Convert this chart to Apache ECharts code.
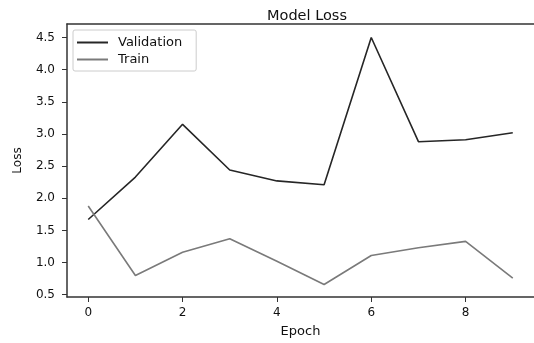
<!DOCTYPE html>
<html><head><meta charset="utf-8">
<script src="https://cdn.jsdelivr.net/npm/echarts@6/dist/echarts.min.js"></script>
<style>html,body{margin:0;padding:0;background:#fff}#c{width:534px;height:343px}</style>
</head><body><div id="c"></div>
<script>
var epochs = [0,1,2,3,4,5,6,7,8,9];
var validation = [1.67,2.33,3.15,2.44,2.27,2.21,4.50,2.88,2.91,3.02];
var train = [1.88,0.80,1.16,1.37,1.02,0.66,1.11,1.23,1.33,0.76];
var xTicks = [0,2,4,6,8];
var yTicks = [0.5,1.0,1.5,2.0,2.5,3.0,3.5,4.0,4.5];
var FONT = 'DejaVu Sans';
var chart = echarts.init(document.getElementById('c'), null, {renderer:'canvas'});
chart.setOption({
  animation:false,
  backgroundColor:'#fff',
  title:{text:'Model Loss', left:302, top:4, textAlign:'center',
    textStyle:{fontFamily:FONT, fontSize:14.5, fontWeight:'normal', color:'#111'}},
  legend:{left:73, top:30, orient:'vertical', padding:[6,14,5,4], itemWidth:31, itemHeight:2, itemGap:4,
    icon:'rect',
    borderColor:'#ccc', borderWidth:1, borderRadius:2,
    textStyle:{fontFamily:FONT, fontSize:13, color:'#111', padding:[0,0,0,5]},
    data:['Validation','Train']},
  grid:{left:67, top:24, width:470, height:275, show:false, containLabel:false},
  xAxis:[{type:'value', min:-0.45, max:9.45, name:'Epoch', nameLocation:'middle', nameGap:28,
    nameTextStyle:{fontFamily:FONT, fontSize:13, color:'#111'},
    axisLine:{onZero:false, lineStyle:{color:'#333', width:1.5}},
    axisTick:{show:true, length:5, customValues:xTicks, lineStyle:{color:'#333'}},
    axisLabel:{customValues:xTicks, fontFamily:FONT, fontSize:12, color:'#111', margin:10},
    splitLine:{show:false}},
    {type:'value', position:'top', min:-0.45, max:9.45,
    axisLine:{show:true, onZero:false, lineStyle:{color:'#333', width:1.5}},
    axisTick:{show:false}, axisLabel:{show:false}, splitLine:{show:false}}],
  yAxis:{type:'value', min:0.465, max:4.71, name:'Loss', nameLocation:'middle', nameGap:43,
    nameTextStyle:{fontFamily:FONT, fontSize:12, color:'#111'},
    axisLine:{show:true, onZero:false, lineStyle:{color:'#333', width:1.5}},
    axisTick:{show:true, length:5, customValues:yTicks, lineStyle:{color:'#333'}},
    axisLabel:{customValues:yTicks, fontFamily:FONT, fontSize:12, color:'#111', margin:12,
      formatter:function(v){return v.toFixed(1);}},
    splitLine:{show:false}},
  series:[
    {name:'Validation', type:'line', symbol:'none', lineStyle:{color:'#262626', width:1.6}, itemStyle:{color:'#262626'},
      data:epochs.map(function(e,i){return [e, validation[i]];})},
    {name:'Train', type:'line', symbol:'none', lineStyle:{color:'#7a7a7a', width:1.6}, itemStyle:{color:'#7a7a7a'},
      data:epochs.map(function(e,i){return [e, train[i]];})}
  ]
});
</script></body></html>
